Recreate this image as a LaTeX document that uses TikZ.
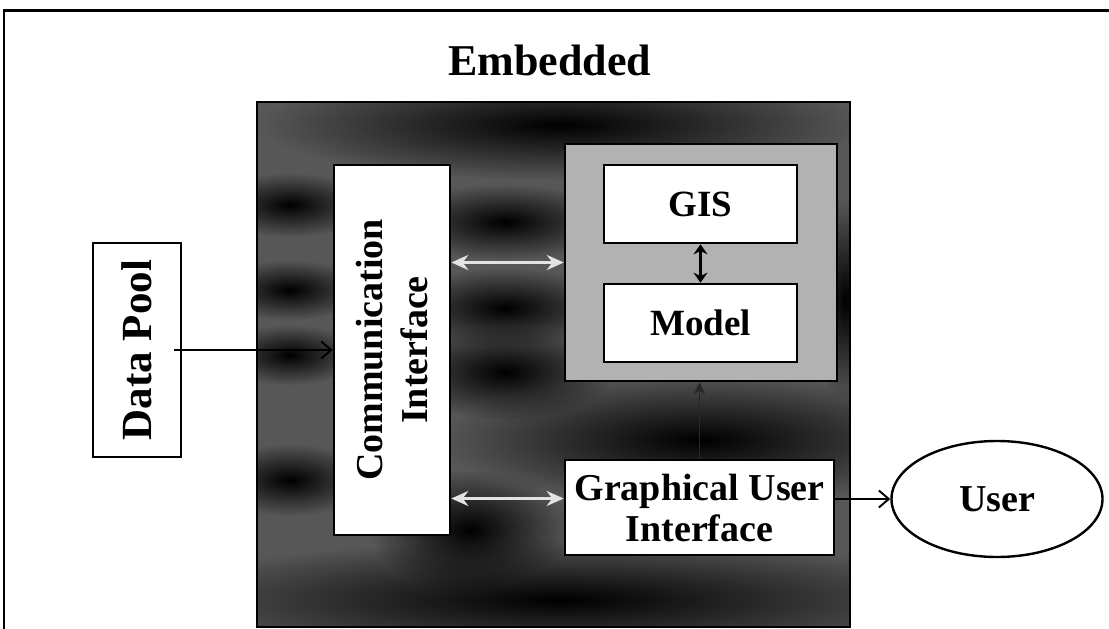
\documentclass[tikz,border=0pt]{standalone}
\usepackage{fontspec}
\setmainfont{Liberation Serif}
\usetikzlibrary{arrows.meta,fadings,shapes.geometric}
\tikzfading[name=softblob, inner color=transparent!0, outer color=transparent!100]
\begin{document}
\begin{tikzpicture}[x=1pt,y=-1pt,
  box/.style={draw=black, line width=2.6pt, fill=white, inner sep=0pt,
    font=\fontsize{37}{40}\selectfont\bfseries, align=center},
  blob/.style={fill=black, path fading=softblob},
  lightarrow/.style={draw=gray!22, line width=2.6pt,
    {Stealth[length=17pt,width=15pt]}-{Stealth[length=17pt,width=15pt]}},
  plainarrow/.style={draw=black, line width=1.9pt,
    -{Straight Barb[length=10pt,width=17pt,line width=1.9pt]}}]
\useasboundingbox (0,0) rectangle (1109,629);

% outer frame
\draw[line width=1.8pt] (4,629) -- (4,10);
\draw[line width=3pt] (3,10) -- (1109,10);
\node[font=\fontsize{44}{48}\selectfont\bfseries] (title) at (550,60) {Embedded};

% embedded block with mottled dark background
\fill[black!66] (257,102) rectangle (850,627);
\begin{scope}
  \clip (257,102) rectangle (850,627);
  \fill[blob] (560,125) ellipse (300 and 55);
  \fill[blob] (290,205) ellipse (80 and 32);
  \fill[blob] (290,290) ellipse (75 and 30);
  \fill[blob] (290,355) ellipse (70 and 30);
  \fill[blob] (505,222) ellipse (110 and 38);
  \fill[blob] (505,308) ellipse (110 and 40);
  \fill[blob] (505,372) ellipse (110 and 48);
  \fill[blob] (700,440) ellipse (260 and 65);
  \fill[blob] (470,530) ellipse (100 and 60);
  \fill[blob] (560,600) ellipse (420 and 60);
  \fill[blob] (290,480) ellipse (80 and 36);
  \fill[blob] (845,300) ellipse (35 and 100);
\end{scope}
\draw[line width=2.4pt] (257,102) rectangle (850,627);

% inner light panel holding GIS and Model
\node[draw=black, line width=2.4pt, fill=gray!60, minimum width=272pt,
  minimum height=237pt, inner sep=0pt] (core) at (701,262.5) {};

\node[box, minimum width=193pt, minimum height=78pt] (gis) at (700.5,204) {GIS};
\node[box, minimum width=193pt, minimum height=78pt] (model) at (700.5,323) {Model};

\node[box, rotate=90, minimum width=370pt, minimum height=116pt,
  font=\fontsize{38}{45}\selectfont\bfseries] (comm) at (392,350)
  {Communication\\Interface};

\node[box, minimum width=269pt, minimum height=95pt,
  font=\fontsize{38}{41}\selectfont\bfseries] (gui) at (699.5,507.5)
  {Graphical User\\Interface};

\node[box, rotate=90, minimum width=214pt, minimum height=88pt,
  font=\fontsize{43}{46}\selectfont\bfseries] (dp) at (137,350) {Data Pool};

\node[draw=black, line width=2.4pt, ellipse, minimum width=211pt,
  minimum height=116pt, inner sep=0pt, font=\fontsize{38}{41}\selectfont\bfseries]
  (user) at (997,499) {User};

% connectors
\coordinate (dpout) at ([xshift=-8pt]dp.south);
\draw[plainarrow] (dpout) -- (dpout -| comm.north);
\draw[lightarrow] (core.west -| comm.south) -- (core.west);
\coordinate (guiin) at ([yshift=9pt]gui.west);
\draw[lightarrow] (guiin -| comm.south) -- (guiin);
\draw[draw=black!85, line width=1.5pt, -{Stealth[length=12pt,width=11pt]}] (gui.north) -- (gui.north |- core.south);
\draw[black, line width=3pt, {Stealth[length=10pt,width=14pt]}-{Stealth[length=10pt,width=14pt]}] (gis.south) -- (model.north);
\draw[plainarrow] (user.west -| gui.east) -- (user.west);
\end{tikzpicture}
\end{document}
